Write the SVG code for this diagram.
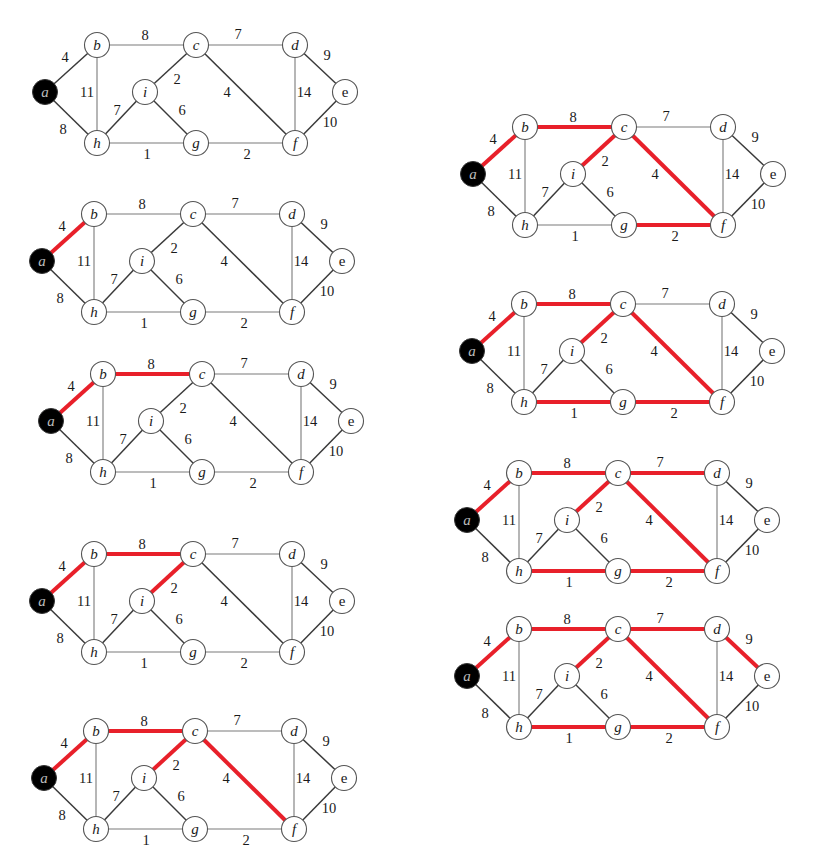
<svg xmlns="http://www.w3.org/2000/svg" width="817" height="865" viewBox="0 0 817 865">
<style>
.bg{fill:#ffffff}
.dk{stroke:#3a3a3a;stroke-width:1.5;fill:none}
.lt{stroke:#7a7a7a;stroke-width:1.1;fill:none}
.r{stroke:#e8202a;stroke-width:4;fill:none}
.nc{fill:#ffffff;stroke:#555555;stroke-width:1.1}
.na{fill:#000000;stroke:#333333;stroke-width:1}
.nl{font-family:"Liberation Serif",serif;font-style:italic;font-size:15px;fill:#1a1a1a;text-anchor:middle}
.nle{font-family:"Liberation Serif",serif;font-size:15px;fill:#1a1a1a;text-anchor:middle}
.nla{font-family:"Liberation Serif",serif;font-style:italic;font-size:15px;fill:#bbbbbb;text-anchor:middle}
.w{font-family:"Liberation Serif",serif;font-size:14.5px;fill:#1a1a1a;text-anchor:middle}
</style>
<rect class="bg" x="0" y="0" width="817" height="865"/>

<!-- Panel 1 -->
<g id="p1" transform="translate(45,92)">
<g id="p1-edges">
<line class="dk" x1="0" y1="0" x2="52" y2="-47"/>
<line class="dk" x1="0" y1="0" x2="52" y2="51"/>
<line class="lt" x1="52" y1="-47" x2="151" y2="-47"/>
<line class="lt" x1="52" y1="-47" x2="52" y2="51"/>
<line class="lt" x1="151" y1="-47" x2="250" y2="-47"/>
<line class="dk" x1="151" y1="-47" x2="100" y2="0"/>
<line class="dk" x1="151" y1="-47" x2="250" y2="51"/>
<line class="dk" x1="52" y1="51" x2="100" y2="0"/>
<line class="lt" x1="52" y1="51" x2="151" y2="51"/>
<line class="dk" x1="100" y1="0" x2="151" y2="51"/>
<line class="lt" x1="151" y1="51" x2="250" y2="51"/>
<line class="lt" x1="250" y1="-47" x2="250" y2="51"/>
<line class="dk" x1="250" y1="-47" x2="300" y2="0"/>
<line class="dk" x1="250" y1="51" x2="300" y2="0"/>
</g>
<g id="p1-weights">
<text class="w" x="20" y="-30">4</text><text class="w" x="100" y="-52">8</text><text class="w" x="193" y="-53">7</text><text class="w" x="282" y="-32">9</text>
<text class="w" x="42" y="5">11</text><text class="w" x="132" y="-8">2</text><text class="w" x="182" y="5">4</text><text class="w" x="259" y="5">14</text>
<text class="w" x="72" y="23">7</text><text class="w" x="137" y="23">6</text><text class="w" x="285" y="35">10</text><text class="w" x="18" y="42">8</text>
<text class="w" x="102" y="67">1</text><text class="w" x="202" y="67">2</text>
</g>
<g id="p1-a"><circle class="na" cx="0" cy="0" r="12.5"/><text class="nla" x="0" y="5">a</text></g>
<g id="p1-b"><circle class="nc" cx="52" cy="-47" r="12.5"/><text class="nl" x="52" y="-42">b</text></g>
<g id="p1-c"><circle class="nc" cx="151" cy="-47" r="12.5"/><text class="nl" x="151" y="-42">c</text></g>
<g id="p1-d"><circle class="nc" cx="250" cy="-47" r="12.5"/><text class="nl" x="250" y="-42">d</text></g>
<g id="p1-e"><circle class="nc" cx="300" cy="0" r="12.5"/><text class="nle" x="300" y="5">e</text></g>
<g id="p1-i"><circle class="nc" cx="100" cy="0" r="12.5"/><text class="nl" x="100" y="5">i</text></g>
<g id="p1-h"><circle class="nc" cx="52" cy="51" r="12.5"/><text class="nl" x="52" y="56">h</text></g>
<g id="p1-g"><circle class="nc" cx="151" cy="51" r="12.5"/><text class="nl" x="151" y="56">g</text></g>
<g id="p1-f"><circle class="nc" cx="250" cy="51" r="12.5"/><text class="nl" x="250" y="56">f</text></g>
</g>

<!-- Panel 2 -->
<g id="p2" transform="translate(42,261)">
<g id="p2-edges">
<line class="r" x1="0" y1="0" x2="52" y2="-47"/>
<line class="dk" x1="0" y1="0" x2="52" y2="51"/>
<line class="lt" x1="52" y1="-47" x2="151" y2="-47"/>
<line class="lt" x1="52" y1="-47" x2="52" y2="51"/>
<line class="lt" x1="151" y1="-47" x2="250" y2="-47"/>
<line class="dk" x1="151" y1="-47" x2="100" y2="0"/>
<line class="dk" x1="151" y1="-47" x2="250" y2="51"/>
<line class="dk" x1="52" y1="51" x2="100" y2="0"/>
<line class="lt" x1="52" y1="51" x2="151" y2="51"/>
<line class="dk" x1="100" y1="0" x2="151" y2="51"/>
<line class="lt" x1="151" y1="51" x2="250" y2="51"/>
<line class="lt" x1="250" y1="-47" x2="250" y2="51"/>
<line class="dk" x1="250" y1="-47" x2="300" y2="0"/>
<line class="dk" x1="250" y1="51" x2="300" y2="0"/>
</g>
<g id="p2-weights">
<text class="w" x="20" y="-30">4</text><text class="w" x="100" y="-52">8</text><text class="w" x="193" y="-53">7</text><text class="w" x="282" y="-32">9</text>
<text class="w" x="42" y="5">11</text><text class="w" x="132" y="-8">2</text><text class="w" x="182" y="5">4</text><text class="w" x="259" y="5">14</text>
<text class="w" x="72" y="23">7</text><text class="w" x="137" y="23">6</text><text class="w" x="285" y="35">10</text><text class="w" x="18" y="42">8</text>
<text class="w" x="102" y="67">1</text><text class="w" x="202" y="67">2</text>
</g>
<g id="p2-a"><circle class="na" cx="0" cy="0" r="12.5"/><text class="nla" x="0" y="5">a</text></g>
<g id="p2-b"><circle class="nc" cx="52" cy="-47" r="12.5"/><text class="nl" x="52" y="-42">b</text></g>
<g id="p2-c"><circle class="nc" cx="151" cy="-47" r="12.5"/><text class="nl" x="151" y="-42">c</text></g>
<g id="p2-d"><circle class="nc" cx="250" cy="-47" r="12.5"/><text class="nl" x="250" y="-42">d</text></g>
<g id="p2-e"><circle class="nc" cx="300" cy="0" r="12.5"/><text class="nle" x="300" y="5">e</text></g>
<g id="p2-i"><circle class="nc" cx="100" cy="0" r="12.5"/><text class="nl" x="100" y="5">i</text></g>
<g id="p2-h"><circle class="nc" cx="52" cy="51" r="12.5"/><text class="nl" x="52" y="56">h</text></g>
<g id="p2-g"><circle class="nc" cx="151" cy="51" r="12.5"/><text class="nl" x="151" y="56">g</text></g>
<g id="p2-f"><circle class="nc" cx="250" cy="51" r="12.5"/><text class="nl" x="250" y="56">f</text></g>
</g>

<!-- Panel 3 -->
<g id="p3" transform="translate(51,421)">
<g id="p3-edges">
<line class="r" x1="0" y1="0" x2="52" y2="-47"/>
<line class="dk" x1="0" y1="0" x2="52" y2="51"/>
<line class="r" x1="52" y1="-47" x2="151" y2="-47"/>
<line class="lt" x1="52" y1="-47" x2="52" y2="51"/>
<line class="lt" x1="151" y1="-47" x2="250" y2="-47"/>
<line class="dk" x1="151" y1="-47" x2="100" y2="0"/>
<line class="dk" x1="151" y1="-47" x2="250" y2="51"/>
<line class="dk" x1="52" y1="51" x2="100" y2="0"/>
<line class="lt" x1="52" y1="51" x2="151" y2="51"/>
<line class="dk" x1="100" y1="0" x2="151" y2="51"/>
<line class="lt" x1="151" y1="51" x2="250" y2="51"/>
<line class="lt" x1="250" y1="-47" x2="250" y2="51"/>
<line class="dk" x1="250" y1="-47" x2="300" y2="0"/>
<line class="dk" x1="250" y1="51" x2="300" y2="0"/>
</g>
<g id="p3-weights">
<text class="w" x="20" y="-30">4</text><text class="w" x="100" y="-52">8</text><text class="w" x="193" y="-53">7</text><text class="w" x="282" y="-32">9</text>
<text class="w" x="42" y="5">11</text><text class="w" x="132" y="-8">2</text><text class="w" x="182" y="5">4</text><text class="w" x="259" y="5">14</text>
<text class="w" x="72" y="23">7</text><text class="w" x="137" y="23">6</text><text class="w" x="285" y="35">10</text><text class="w" x="18" y="42">8</text>
<text class="w" x="102" y="67">1</text><text class="w" x="202" y="67">2</text>
</g>
<g id="p3-a"><circle class="na" cx="0" cy="0" r="12.5"/><text class="nla" x="0" y="5">a</text></g>
<g id="p3-b"><circle class="nc" cx="52" cy="-47" r="12.5"/><text class="nl" x="52" y="-42">b</text></g>
<g id="p3-c"><circle class="nc" cx="151" cy="-47" r="12.5"/><text class="nl" x="151" y="-42">c</text></g>
<g id="p3-d"><circle class="nc" cx="250" cy="-47" r="12.5"/><text class="nl" x="250" y="-42">d</text></g>
<g id="p3-e"><circle class="nc" cx="300" cy="0" r="12.5"/><text class="nle" x="300" y="5">e</text></g>
<g id="p3-i"><circle class="nc" cx="100" cy="0" r="12.5"/><text class="nl" x="100" y="5">i</text></g>
<g id="p3-h"><circle class="nc" cx="52" cy="51" r="12.5"/><text class="nl" x="52" y="56">h</text></g>
<g id="p3-g"><circle class="nc" cx="151" cy="51" r="12.5"/><text class="nl" x="151" y="56">g</text></g>
<g id="p3-f"><circle class="nc" cx="250" cy="51" r="12.5"/><text class="nl" x="250" y="56">f</text></g>
</g>

<!-- Panel 4 -->
<g id="p4" transform="translate(42,601)">
<g id="p4-edges">
<line class="r" x1="0" y1="0" x2="52" y2="-47"/>
<line class="dk" x1="0" y1="0" x2="52" y2="51"/>
<line class="r" x1="52" y1="-47" x2="151" y2="-47"/>
<line class="lt" x1="52" y1="-47" x2="52" y2="51"/>
<line class="lt" x1="151" y1="-47" x2="250" y2="-47"/>
<line class="r" x1="151" y1="-47" x2="100" y2="0"/>
<line class="dk" x1="151" y1="-47" x2="250" y2="51"/>
<line class="dk" x1="52" y1="51" x2="100" y2="0"/>
<line class="lt" x1="52" y1="51" x2="151" y2="51"/>
<line class="dk" x1="100" y1="0" x2="151" y2="51"/>
<line class="lt" x1="151" y1="51" x2="250" y2="51"/>
<line class="lt" x1="250" y1="-47" x2="250" y2="51"/>
<line class="dk" x1="250" y1="-47" x2="300" y2="0"/>
<line class="dk" x1="250" y1="51" x2="300" y2="0"/>
</g>
<g id="p4-weights">
<text class="w" x="20" y="-30">4</text><text class="w" x="100" y="-52">8</text><text class="w" x="193" y="-53">7</text><text class="w" x="282" y="-32">9</text>
<text class="w" x="42" y="5">11</text><text class="w" x="132" y="-8">2</text><text class="w" x="182" y="5">4</text><text class="w" x="259" y="5">14</text>
<text class="w" x="72" y="23">7</text><text class="w" x="137" y="23">6</text><text class="w" x="285" y="35">10</text><text class="w" x="18" y="42">8</text>
<text class="w" x="102" y="67">1</text><text class="w" x="202" y="67">2</text>
</g>
<g id="p4-a"><circle class="na" cx="0" cy="0" r="12.5"/><text class="nla" x="0" y="5">a</text></g>
<g id="p4-b"><circle class="nc" cx="52" cy="-47" r="12.5"/><text class="nl" x="52" y="-42">b</text></g>
<g id="p4-c"><circle class="nc" cx="151" cy="-47" r="12.5"/><text class="nl" x="151" y="-42">c</text></g>
<g id="p4-d"><circle class="nc" cx="250" cy="-47" r="12.5"/><text class="nl" x="250" y="-42">d</text></g>
<g id="p4-e"><circle class="nc" cx="300" cy="0" r="12.5"/><text class="nle" x="300" y="5">e</text></g>
<g id="p4-i"><circle class="nc" cx="100" cy="0" r="12.5"/><text class="nl" x="100" y="5">i</text></g>
<g id="p4-h"><circle class="nc" cx="52" cy="51" r="12.5"/><text class="nl" x="52" y="56">h</text></g>
<g id="p4-g"><circle class="nc" cx="151" cy="51" r="12.5"/><text class="nl" x="151" y="56">g</text></g>
<g id="p4-f"><circle class="nc" cx="250" cy="51" r="12.5"/><text class="nl" x="250" y="56">f</text></g>
</g>

<!-- Panel 5 -->
<g id="p5" transform="translate(44,778)">
<g id="p5-edges">
<line class="r" x1="0" y1="0" x2="52" y2="-47"/>
<line class="dk" x1="0" y1="0" x2="52" y2="51"/>
<line class="r" x1="52" y1="-47" x2="151" y2="-47"/>
<line class="lt" x1="52" y1="-47" x2="52" y2="51"/>
<line class="lt" x1="151" y1="-47" x2="250" y2="-47"/>
<line class="r" x1="151" y1="-47" x2="100" y2="0"/>
<line class="r" x1="151" y1="-47" x2="250" y2="51"/>
<line class="dk" x1="52" y1="51" x2="100" y2="0"/>
<line class="lt" x1="52" y1="51" x2="151" y2="51"/>
<line class="dk" x1="100" y1="0" x2="151" y2="51"/>
<line class="lt" x1="151" y1="51" x2="250" y2="51"/>
<line class="lt" x1="250" y1="-47" x2="250" y2="51"/>
<line class="dk" x1="250" y1="-47" x2="300" y2="0"/>
<line class="dk" x1="250" y1="51" x2="300" y2="0"/>
</g>
<g id="p5-weights">
<text class="w" x="20" y="-30">4</text><text class="w" x="100" y="-52">8</text><text class="w" x="193" y="-53">7</text><text class="w" x="282" y="-32">9</text>
<text class="w" x="42" y="5">11</text><text class="w" x="132" y="-8">2</text><text class="w" x="182" y="5">4</text><text class="w" x="259" y="5">14</text>
<text class="w" x="72" y="23">7</text><text class="w" x="137" y="23">6</text><text class="w" x="285" y="35">10</text><text class="w" x="18" y="42">8</text>
<text class="w" x="102" y="67">1</text><text class="w" x="202" y="67">2</text>
</g>
<g id="p5-a"><circle class="na" cx="0" cy="0" r="12.5"/><text class="nla" x="0" y="5">a</text></g>
<g id="p5-b"><circle class="nc" cx="52" cy="-47" r="12.5"/><text class="nl" x="52" y="-42">b</text></g>
<g id="p5-c"><circle class="nc" cx="151" cy="-47" r="12.5"/><text class="nl" x="151" y="-42">c</text></g>
<g id="p5-d"><circle class="nc" cx="250" cy="-47" r="12.5"/><text class="nl" x="250" y="-42">d</text></g>
<g id="p5-e"><circle class="nc" cx="300" cy="0" r="12.5"/><text class="nle" x="300" y="5">e</text></g>
<g id="p5-i"><circle class="nc" cx="100" cy="0" r="12.5"/><text class="nl" x="100" y="5">i</text></g>
<g id="p5-h"><circle class="nc" cx="52" cy="51" r="12.5"/><text class="nl" x="52" y="56">h</text></g>
<g id="p5-g"><circle class="nc" cx="151" cy="51" r="12.5"/><text class="nl" x="151" y="56">g</text></g>
<g id="p5-f"><circle class="nc" cx="250" cy="51" r="12.5"/><text class="nl" x="250" y="56">f</text></g>
</g>

<!-- Panel R1 -->
<g id="r1" transform="translate(473,174)">
<g id="r1-edges">
<line class="r" x1="0" y1="0" x2="52" y2="-47"/>
<line class="dk" x1="0" y1="0" x2="52" y2="51"/>
<line class="r" x1="52" y1="-47" x2="151" y2="-47"/>
<line class="lt" x1="52" y1="-47" x2="52" y2="51"/>
<line class="lt" x1="151" y1="-47" x2="250" y2="-47"/>
<line class="r" x1="151" y1="-47" x2="100" y2="0"/>
<line class="r" x1="151" y1="-47" x2="250" y2="51"/>
<line class="dk" x1="52" y1="51" x2="100" y2="0"/>
<line class="lt" x1="52" y1="51" x2="151" y2="51"/>
<line class="dk" x1="100" y1="0" x2="151" y2="51"/>
<line class="r" x1="151" y1="51" x2="250" y2="51"/>
<line class="lt" x1="250" y1="-47" x2="250" y2="51"/>
<line class="dk" x1="250" y1="-47" x2="300" y2="0"/>
<line class="dk" x1="250" y1="51" x2="300" y2="0"/>
</g>
<g id="r1-weights">
<text class="w" x="20" y="-30">4</text><text class="w" x="100" y="-52">8</text><text class="w" x="193" y="-53">7</text><text class="w" x="282" y="-32">9</text>
<text class="w" x="42" y="5">11</text><text class="w" x="132" y="-8">2</text><text class="w" x="182" y="5">4</text><text class="w" x="259" y="5">14</text>
<text class="w" x="72" y="23">7</text><text class="w" x="137" y="23">6</text><text class="w" x="285" y="35">10</text><text class="w" x="18" y="42">8</text>
<text class="w" x="102" y="67">1</text><text class="w" x="202" y="67">2</text>
</g>
<g id="r1-a"><circle class="na" cx="0" cy="0" r="12.5"/><text class="nla" x="0" y="5">a</text></g>
<g id="r1-b"><circle class="nc" cx="52" cy="-47" r="12.5"/><text class="nl" x="52" y="-42">b</text></g>
<g id="r1-c"><circle class="nc" cx="151" cy="-47" r="12.5"/><text class="nl" x="151" y="-42">c</text></g>
<g id="r1-d"><circle class="nc" cx="250" cy="-47" r="12.5"/><text class="nl" x="250" y="-42">d</text></g>
<g id="r1-e"><circle class="nc" cx="300" cy="0" r="12.5"/><text class="nle" x="300" y="5">e</text></g>
<g id="r1-i"><circle class="nc" cx="100" cy="0" r="12.5"/><text class="nl" x="100" y="5">i</text></g>
<g id="r1-h"><circle class="nc" cx="52" cy="51" r="12.5"/><text class="nl" x="52" y="56">h</text></g>
<g id="r1-g"><circle class="nc" cx="151" cy="51" r="12.5"/><text class="nl" x="151" y="56">g</text></g>
<g id="r1-f"><circle class="nc" cx="250" cy="51" r="12.5"/><text class="nl" x="250" y="56">f</text></g>
</g>

<!-- Panel R2 -->
<g id="r2" transform="translate(472,351)">
<g id="r2-edges">
<line class="r" x1="0" y1="0" x2="52" y2="-47"/>
<line class="dk" x1="0" y1="0" x2="52" y2="51"/>
<line class="r" x1="52" y1="-47" x2="151" y2="-47"/>
<line class="lt" x1="52" y1="-47" x2="52" y2="51"/>
<line class="lt" x1="151" y1="-47" x2="250" y2="-47"/>
<line class="r" x1="151" y1="-47" x2="100" y2="0"/>
<line class="r" x1="151" y1="-47" x2="250" y2="51"/>
<line class="dk" x1="52" y1="51" x2="100" y2="0"/>
<line class="r" x1="52" y1="51" x2="151" y2="51"/>
<line class="dk" x1="100" y1="0" x2="151" y2="51"/>
<line class="r" x1="151" y1="51" x2="250" y2="51"/>
<line class="lt" x1="250" y1="-47" x2="250" y2="51"/>
<line class="dk" x1="250" y1="-47" x2="300" y2="0"/>
<line class="dk" x1="250" y1="51" x2="300" y2="0"/>
</g>
<g id="r2-weights">
<text class="w" x="20" y="-30">4</text><text class="w" x="100" y="-52">8</text><text class="w" x="193" y="-53">7</text><text class="w" x="282" y="-32">9</text>
<text class="w" x="42" y="5">11</text><text class="w" x="132" y="-8">2</text><text class="w" x="182" y="5">4</text><text class="w" x="259" y="5">14</text>
<text class="w" x="72" y="23">7</text><text class="w" x="137" y="23">6</text><text class="w" x="285" y="35">10</text><text class="w" x="18" y="42">8</text>
<text class="w" x="102" y="67">1</text><text class="w" x="202" y="67">2</text>
</g>
<g id="r2-a"><circle class="na" cx="0" cy="0" r="12.5"/><text class="nla" x="0" y="5">a</text></g>
<g id="r2-b"><circle class="nc" cx="52" cy="-47" r="12.5"/><text class="nl" x="52" y="-42">b</text></g>
<g id="r2-c"><circle class="nc" cx="151" cy="-47" r="12.5"/><text class="nl" x="151" y="-42">c</text></g>
<g id="r2-d"><circle class="nc" cx="250" cy="-47" r="12.5"/><text class="nl" x="250" y="-42">d</text></g>
<g id="r2-e"><circle class="nc" cx="300" cy="0" r="12.5"/><text class="nle" x="300" y="5">e</text></g>
<g id="r2-i"><circle class="nc" cx="100" cy="0" r="12.5"/><text class="nl" x="100" y="5">i</text></g>
<g id="r2-h"><circle class="nc" cx="52" cy="51" r="12.5"/><text class="nl" x="52" y="56">h</text></g>
<g id="r2-g"><circle class="nc" cx="151" cy="51" r="12.5"/><text class="nl" x="151" y="56">g</text></g>
<g id="r2-f"><circle class="nc" cx="250" cy="51" r="12.5"/><text class="nl" x="250" y="56">f</text></g>
</g>

<!-- Panel R3 -->
<g id="r3" transform="translate(467,520)">
<g id="r3-edges">
<line class="r" x1="0" y1="0" x2="52" y2="-47"/>
<line class="dk" x1="0" y1="0" x2="52" y2="51"/>
<line class="r" x1="52" y1="-47" x2="151" y2="-47"/>
<line class="lt" x1="52" y1="-47" x2="52" y2="51"/>
<line class="r" x1="151" y1="-47" x2="250" y2="-47"/>
<line class="r" x1="151" y1="-47" x2="100" y2="0"/>
<line class="r" x1="151" y1="-47" x2="250" y2="51"/>
<line class="dk" x1="52" y1="51" x2="100" y2="0"/>
<line class="r" x1="52" y1="51" x2="151" y2="51"/>
<line class="dk" x1="100" y1="0" x2="151" y2="51"/>
<line class="r" x1="151" y1="51" x2="250" y2="51"/>
<line class="lt" x1="250" y1="-47" x2="250" y2="51"/>
<line class="dk" x1="250" y1="-47" x2="300" y2="0"/>
<line class="dk" x1="250" y1="51" x2="300" y2="0"/>
</g>
<g id="r3-weights">
<text class="w" x="20" y="-30">4</text><text class="w" x="100" y="-52">8</text><text class="w" x="193" y="-53">7</text><text class="w" x="282" y="-32">9</text>
<text class="w" x="42" y="5">11</text><text class="w" x="132" y="-8">2</text><text class="w" x="182" y="5">4</text><text class="w" x="259" y="5">14</text>
<text class="w" x="72" y="23">7</text><text class="w" x="137" y="23">6</text><text class="w" x="285" y="35">10</text><text class="w" x="18" y="42">8</text>
<text class="w" x="102" y="67">1</text><text class="w" x="202" y="67">2</text>
</g>
<g id="r3-a"><circle class="na" cx="0" cy="0" r="12.5"/><text class="nla" x="0" y="5">a</text></g>
<g id="r3-b"><circle class="nc" cx="52" cy="-47" r="12.5"/><text class="nl" x="52" y="-42">b</text></g>
<g id="r3-c"><circle class="nc" cx="151" cy="-47" r="12.5"/><text class="nl" x="151" y="-42">c</text></g>
<g id="r3-d"><circle class="nc" cx="250" cy="-47" r="12.5"/><text class="nl" x="250" y="-42">d</text></g>
<g id="r3-e"><circle class="nc" cx="300" cy="0" r="12.5"/><text class="nle" x="300" y="5">e</text></g>
<g id="r3-i"><circle class="nc" cx="100" cy="0" r="12.5"/><text class="nl" x="100" y="5">i</text></g>
<g id="r3-h"><circle class="nc" cx="52" cy="51" r="12.5"/><text class="nl" x="52" y="56">h</text></g>
<g id="r3-g"><circle class="nc" cx="151" cy="51" r="12.5"/><text class="nl" x="151" y="56">g</text></g>
<g id="r3-f"><circle class="nc" cx="250" cy="51" r="12.5"/><text class="nl" x="250" y="56">f</text></g>
</g>

<!-- Panel R4 -->
<g id="r4" transform="translate(467,676)">
<g id="r4-edges">
<line class="r" x1="0" y1="0" x2="52" y2="-47"/>
<line class="dk" x1="0" y1="0" x2="52" y2="51"/>
<line class="r" x1="52" y1="-47" x2="151" y2="-47"/>
<line class="lt" x1="52" y1="-47" x2="52" y2="51"/>
<line class="r" x1="151" y1="-47" x2="250" y2="-47"/>
<line class="r" x1="151" y1="-47" x2="100" y2="0"/>
<line class="r" x1="151" y1="-47" x2="250" y2="51"/>
<line class="dk" x1="52" y1="51" x2="100" y2="0"/>
<line class="r" x1="52" y1="51" x2="151" y2="51"/>
<line class="dk" x1="100" y1="0" x2="151" y2="51"/>
<line class="r" x1="151" y1="51" x2="250" y2="51"/>
<line class="lt" x1="250" y1="-47" x2="250" y2="51"/>
<line class="r" x1="250" y1="-47" x2="300" y2="0"/>
<line class="dk" x1="250" y1="51" x2="300" y2="0"/>
</g>
<g id="r4-weights">
<text class="w" x="20" y="-30">4</text><text class="w" x="100" y="-52">8</text><text class="w" x="193" y="-53">7</text><text class="w" x="282" y="-32">9</text>
<text class="w" x="42" y="5">11</text><text class="w" x="132" y="-8">2</text><text class="w" x="182" y="5">4</text><text class="w" x="259" y="5">14</text>
<text class="w" x="72" y="23">7</text><text class="w" x="137" y="23">6</text><text class="w" x="285" y="35">10</text><text class="w" x="18" y="42">8</text>
<text class="w" x="102" y="67">1</text><text class="w" x="202" y="67">2</text>
</g>
<g id="r4-a"><circle class="na" cx="0" cy="0" r="12.5"/><text class="nla" x="0" y="5">a</text></g>
<g id="r4-b"><circle class="nc" cx="52" cy="-47" r="12.5"/><text class="nl" x="52" y="-42">b</text></g>
<g id="r4-c"><circle class="nc" cx="151" cy="-47" r="12.5"/><text class="nl" x="151" y="-42">c</text></g>
<g id="r4-d"><circle class="nc" cx="250" cy="-47" r="12.5"/><text class="nl" x="250" y="-42">d</text></g>
<g id="r4-e"><circle class="nc" cx="300" cy="0" r="12.5"/><text class="nle" x="300" y="5">e</text></g>
<g id="r4-i"><circle class="nc" cx="100" cy="0" r="12.5"/><text class="nl" x="100" y="5">i</text></g>
<g id="r4-h"><circle class="nc" cx="52" cy="51" r="12.5"/><text class="nl" x="52" y="56">h</text></g>
<g id="r4-g"><circle class="nc" cx="151" cy="51" r="12.5"/><text class="nl" x="151" y="56">g</text></g>
<g id="r4-f"><circle class="nc" cx="250" cy="51" r="12.5"/><text class="nl" x="250" y="56">f</text></g>
</g>
</svg>
